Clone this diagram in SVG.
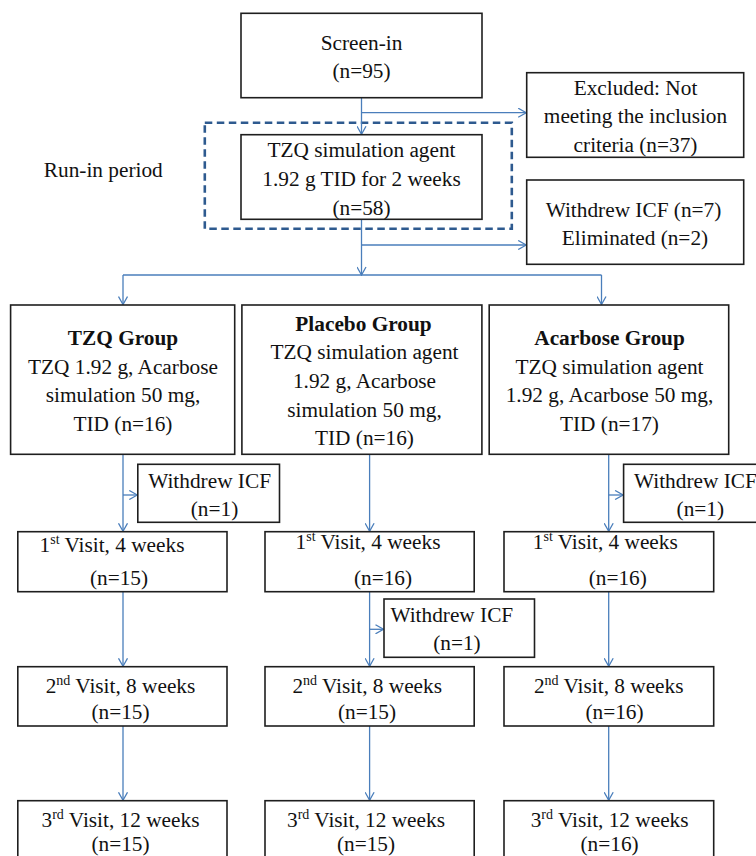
<svg xmlns="http://www.w3.org/2000/svg" width="756" height="856" viewBox="0 0 756 856">
<style>
.box{fill:#fff;stroke:#1e1e1e;stroke-width:1.6}
.t{font-family:"Liberation Serif","Times New Roman",serif;font-size:21.3px;fill:#111;text-anchor:middle}
.b{font-weight:bold}
.sup{font-size:14px}
.c{fill:none;stroke:#4a7ebb;stroke-width:1.3}
.dash{fill:none;stroke:#2e5a8f;stroke-width:2.6;stroke-dasharray:7.5 4.5}
</style>
<defs>
<marker id="ah" markerUnits="userSpaceOnUse" viewBox="0 0 10 10" refX="9" refY="5" markerWidth="10" markerHeight="10" orient="auto">
<path d="M1,0.5 L9,5 L1,9.5" fill="none" stroke="#4a7ebb" stroke-width="1.3"/>
</marker>
</defs>

<g id="runin-label"><text class="t" x="103.3" y="176.7">Run-in period</text></g>
<g id="runin-frame"><rect class="dash" x="204.8" y="122.7" width="307" height="106"/></g>

<g id="connectors">
<path class="c" d="M361.5,97.7 V134.2" marker-end="url(#ah)"/>
<path class="c" d="M361.5,112.7 H526.2" marker-end="url(#ah)"/>
<path class="c" d="M361.5,219.3 V275" marker-end="url(#ah)"/>
<path class="c" d="M361.5,245 H526.2" marker-end="url(#ah)"/>
<path class="c" d="M123,275 H601.5"/>
<path class="c" d="M123,275 V304.5" marker-end="url(#ah)"/>
<path class="c" d="M601.5,275 V304.5" marker-end="url(#ah)"/>
<path class="c" d="M123,454.3 V531.2" marker-end="url(#ah)"/>
<path class="c" d="M123,495 H137.3" marker-end="url(#ah)"/>
<path class="c" d="M369.6,454.3 V531.2" marker-end="url(#ah)"/>
<path class="c" d="M608.7,454.3 V531.2" marker-end="url(#ah)"/>
<path class="c" d="M608.7,495 H623.1" marker-end="url(#ah)"/>
<path class="c" d="M123,591.7 V666.2" marker-end="url(#ah)"/>
<path class="c" d="M369.6,591.7 V666.2" marker-end="url(#ah)"/>
<path class="c" d="M369.6,629.3 H383.5" marker-end="url(#ah)"/>
<path class="c" d="M608.7,591.7 V666.2" marker-end="url(#ah)"/>
<path class="c" d="M123,726 V800.2" marker-end="url(#ah)"/>
<path class="c" d="M369.6,726 V800.2" marker-end="url(#ah)"/>
<path class="c" d="M608.7,726 V800.2" marker-end="url(#ah)"/>
</g>

<g id="screen-in">
<rect class="box" x="241" y="13.3" width="241" height="84.4"/>
<text class="t" x="361.5" y="50">Screen-in</text>
<text class="t" x="361.5" y="78">(n=95)</text>
</g>

<g id="excluded">
<rect class="box" x="526.7" y="72.7" width="217" height="84.6"/>
<text class="t" x="635.5" y="94.5">Excluded: Not</text>
<text class="t" x="635.5" y="123">meeting the inclusion</text>
<text class="t" x="635.5" y="151.5">criteria (n=37)</text>
</g>

<g id="runin-agent">
<rect class="box" x="241" y="134.7" width="241" height="84.6"/>
<text class="t" x="361.5" y="157">TZQ simulation agent</text>
<text class="t" x="361.5" y="186">1.92 g TID for 2 weeks</text>
<text class="t" x="361.5" y="214.5">(n=58)</text>
</g>

<g id="withdrew-runin">
<rect class="box" x="526.7" y="180" width="217" height="84.3"/>
<text class="t" x="633.5" y="216.7">Withdrew ICF (n=7)</text>
<text class="t" x="635" y="245">Eliminated (n=2)</text>
</g>

<g id="tzq-group">
<rect class="box" x="10.6" y="305" width="224.1" height="149.3"/>
<text class="t b" x="123" y="345">TZQ Group</text>
<text class="t" x="123" y="373.5">TZQ 1.92 g, Acarbose</text>
<text class="t" x="123" y="402">simulation 50 mg,</text>
<text class="t" x="123" y="430.5">TID (n=16)</text>
</g>

<g id="placebo-group">
<rect class="box" x="241.9" y="305" width="240" height="149.3"/>
<text class="t b" x="363.5" y="330.7">Placebo Group</text>
<text class="t" x="364.5" y="359.3">TZQ simulation agent</text>
<text class="t" x="364.5" y="388">1.92 g, Acarbose</text>
<text class="t" x="364.5" y="416.5">simulation 50 mg,</text>
<text class="t" x="364.5" y="445">TID (n=16)</text>
</g>

<g id="acarbose-group">
<rect class="box" x="489.2" y="305" width="239.5" height="149.3"/>
<text class="t b" x="609.5" y="345">Acarbose Group</text>
<text class="t" x="609.5" y="373.5">TZQ simulation agent</text>
<text class="t" x="609.5" y="402">1.92 g, Acarbose 50 mg,</text>
<text class="t" x="609.5" y="430.5">TID (n=17)</text>
</g>

<g id="tzq-withdrew">
<rect class="box" x="137.8" y="464.3" width="141.7" height="58"/>
<text class="t" x="209.6" y="488.3">Withdrew ICF</text>
<text class="t" x="214.5" y="516">(n=1)</text>
</g>

<g id="acarbose-withdrew">
<rect class="box" x="623.6" y="464.3" width="141.7" height="58"/>
<text class="t" x="695.4" y="488.3">Withdrew ICF</text>
<text class="t" x="700.3" y="516">(n=1)</text>
</g>

<g id="tzq-v1">
<rect class="box" x="17.8" y="531.7" width="209.2" height="60"/>
<text class="t" x="112" y="552">1<tspan class="sup" dy="-8">st</tspan><tspan dy="8"> Visit, 4 weeks</tspan></text>
<text class="t" x="119" y="585">(n=15)</text>
</g>

<g id="placebo-v1">
<rect class="box" x="265" y="531.7" width="209.2" height="60"/>
<text class="t" x="368" y="548.5">1<tspan class="sup" dy="-8">st</tspan><tspan dy="8"> Visit, 4 weeks</tspan></text>
<text class="t" x="383" y="585">(n=16)</text>
</g>

<g id="acarbose-v1">
<rect class="box" x="504" y="531.7" width="209.7" height="60"/>
<text class="t" x="605.3" y="548.5">1<tspan class="sup" dy="-8">st</tspan><tspan dy="8"> Visit, 4 weeks</tspan></text>
<text class="t" x="617.8" y="585">(n=16)</text>
</g>

<g id="placebo-withdrew">
<rect class="box" x="384" y="599" width="150.5" height="58.3"/>
<text class="t" x="451.8" y="621.7">Withdrew ICF</text>
<text class="t" x="456.9" y="650">(n=1)</text>
</g>

<g id="tzq-v2">
<rect class="box" x="17.8" y="666.7" width="209.2" height="59.3"/>
<text class="t" x="120.5" y="693.3">2<tspan class="sup" dy="-8">nd</tspan><tspan dy="8"> Visit, 8 weeks</tspan></text>
<text class="t" x="120.5" y="719.3">(n=15)</text>
</g>

<g id="placebo-v2">
<rect class="box" x="265" y="666.7" width="209.2" height="59.3"/>
<text class="t" x="367.2" y="693.3">2<tspan class="sup" dy="-8">nd</tspan><tspan dy="8"> Visit, 8 weeks</tspan></text>
<text class="t" x="367" y="719.3">(n=15)</text>
</g>

<g id="acarbose-v2">
<rect class="box" x="504" y="666.7" width="209.7" height="59.3"/>
<text class="t" x="608.7" y="693.3">2<tspan class="sup" dy="-8">nd</tspan><tspan dy="8"> Visit, 8 weeks</tspan></text>
<text class="t" x="614.5" y="719.3">(n=16)</text>
</g>

<g id="tzq-v3">
<rect class="box" x="17.8" y="800.7" width="209.2" height="62"/>
<text class="t" x="120.5" y="826.7">3<tspan class="sup" dy="-8">rd</tspan><tspan dy="8"> Visit, 12 weeks</tspan></text>
<text class="t" x="120.5" y="851">(n=15)</text>
</g>

<g id="placebo-v3">
<rect class="box" x="265" y="800.7" width="209.2" height="62"/>
<text class="t" x="366" y="826.7">3<tspan class="sup" dy="-8">rd</tspan><tspan dy="8"> Visit, 12 weeks</tspan></text>
<text class="t" x="366" y="851">(n=15)</text>
</g>

<g id="acarbose-v3">
<rect class="box" x="504" y="800.7" width="209.7" height="62"/>
<text class="t" x="609.6" y="826.7">3<tspan class="sup" dy="-8">rd</tspan><tspan dy="8"> Visit, 12 weeks</tspan></text>
<text class="t" x="609.6" y="851">(n=16)</text>
</g>
</svg>
